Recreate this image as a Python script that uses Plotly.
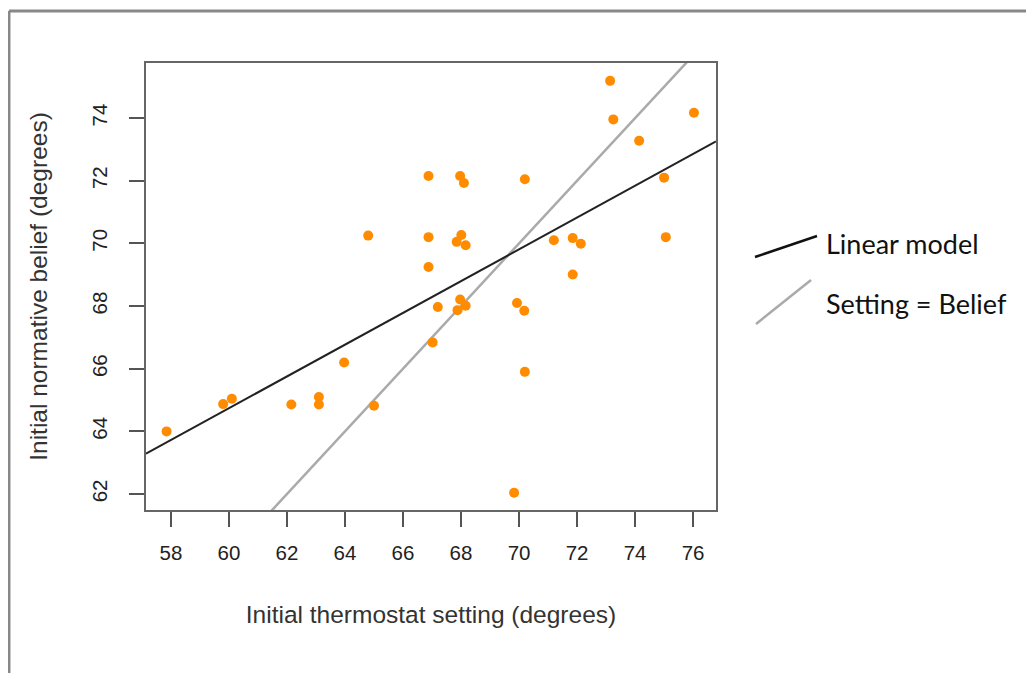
import numpy as np
import plotly.graph_objects as go

# Data
setting = [57.85, 59.8, 60.1, 62.15, 63.1, 63.1, 63.97, 65.0, 64.8, 66.88, 66.88, 66.88,
           67.02, 67.2, 67.97, 68.1, 68.01, 67.85, 68.16, 67.97, 67.88, 68.16, 69.93, 70.18,
           70.2, 69.83, 70.2, 71.2, 71.85, 72.13, 71.85, 73.14, 73.25, 74.14, 75.0, 75.06, 76.03]
belief = [64.0, 64.87, 65.04, 64.86, 65.1, 64.86, 66.2, 64.82, 70.25, 72.15, 70.2, 69.25,
          66.84, 67.97, 72.15, 71.93, 70.27, 70.05, 69.94, 68.21, 67.87, 68.01, 68.1, 67.85,
          65.9, 62.04, 72.05, 70.1, 70.17, 69.99, 69.01, 75.19, 73.96, 73.28, 72.1, 70.2, 74.17]

x_ticks = [58, 60, 62, 64, 66, 68, 70, 72, 74, 76]
y_ticks = [62, 64, 66, 68, 70, 72, 74]
x_range = [57.14, 76.79]
y_range = [61.49, 75.76]

legend_labels = ["Linear model", "Setting = Belief"]

slope, intercept = np.polyfit(setting, belief, 1)
line_x = np.array(x_range)
lm_y = intercept + slope * line_x
id_y = line_x

fig = go.Figure()
fig.add_trace(go.Scatter(x=line_x, y=id_y, mode="lines",
                         line=dict(color="#aaaaaa", width=2.5), showlegend=False,
                         hoverinfo="skip"))
fig.add_trace(go.Scatter(x=line_x, y=lm_y, mode="lines",
                         line=dict(color="#222222", width=2), showlegend=False,
                         hoverinfo="skip"))
fig.add_trace(go.Scatter(x=setting, y=belief, mode="markers",
                         marker=dict(color="#ff8c00", size=10, line=dict(width=0)),
                         showlegend=False))

axis_common = dict(showgrid=False, zeroline=False, showline=True, mirror=True,
                   linecolor="#666666", linewidth=1.5, ticks="outside", ticklen=15,
                   tickcolor="#555555", tickwidth=1.5,
                   tickfont=dict(family="Liberation Sans", size=20.5, color="#222222"))

fig.update_xaxes(range=x_range, tickvals=x_ticks, ticklabelstandoff=9,
                 title=dict(text="Initial thermostat setting (degrees)",
                            font=dict(family="Liberation Sans", size=24.5, color="#333333"),
                            standoff=43),
                 **axis_common)
fig.update_yaxes(range=y_range, tickvals=y_ticks, tickangle=-90, ticklabelstandoff=14,
                 title=dict(text="Initial normative belief (degrees)",
                            font=dict(family="Liberation Sans", size=24.5, color="#333333"),
                            standoff=33),
                 **axis_common)

shapes = [
    # legend glyphs
    dict(type="line", xref="paper", yref="paper", x0=1.0684, y0=0.566, x1=1.1772, y1=0.613,
         line=dict(color="#111111", width=2.5)),
    dict(type="line", xref="paper", yref="paper", x0=1.0702, y0=0.4161, x1=1.1667, y1=0.5145,
         line=dict(color="#aaaaaa", width=2.5)),
    # outer frame (left and top visible)
    dict(type="line", xref="paper", yref="paper", x0=-0.2404, y0=-0.40, x1=-0.2404, y1=1.1163,
         line=dict(color="#888888", width=3)),
    dict(type="line", xref="paper", yref="paper", x0=-0.2404, y0=1.1163, x1=1.60, y1=1.1163,
         line=dict(color="#888888", width=3)),
]

annotations = [
    dict(text=legend_labels[0], xref="paper", yref="paper", x=1.189, y=0.597,
         xanchor="left", yanchor="middle", showarrow=False,
         font=dict(family="Lato", size=27, color="#111111")),
    dict(text=legend_labels[1], xref="paper", yref="paper", x=1.189, y=0.463,
         xanchor="left", yanchor="middle", showarrow=False,
         font=dict(family="Lato", size=27, color="#111111")),
]

# the page adds an 8px body margin, so the margins compensate for it
fig.update_layout(width=1026, height=665, margin=dict(l=138, r=318, t=55, b=163),
                  paper_bgcolor="white", plot_bgcolor="white",
                  shapes=shapes, annotations=annotations)

fig.write_html("out.html")
